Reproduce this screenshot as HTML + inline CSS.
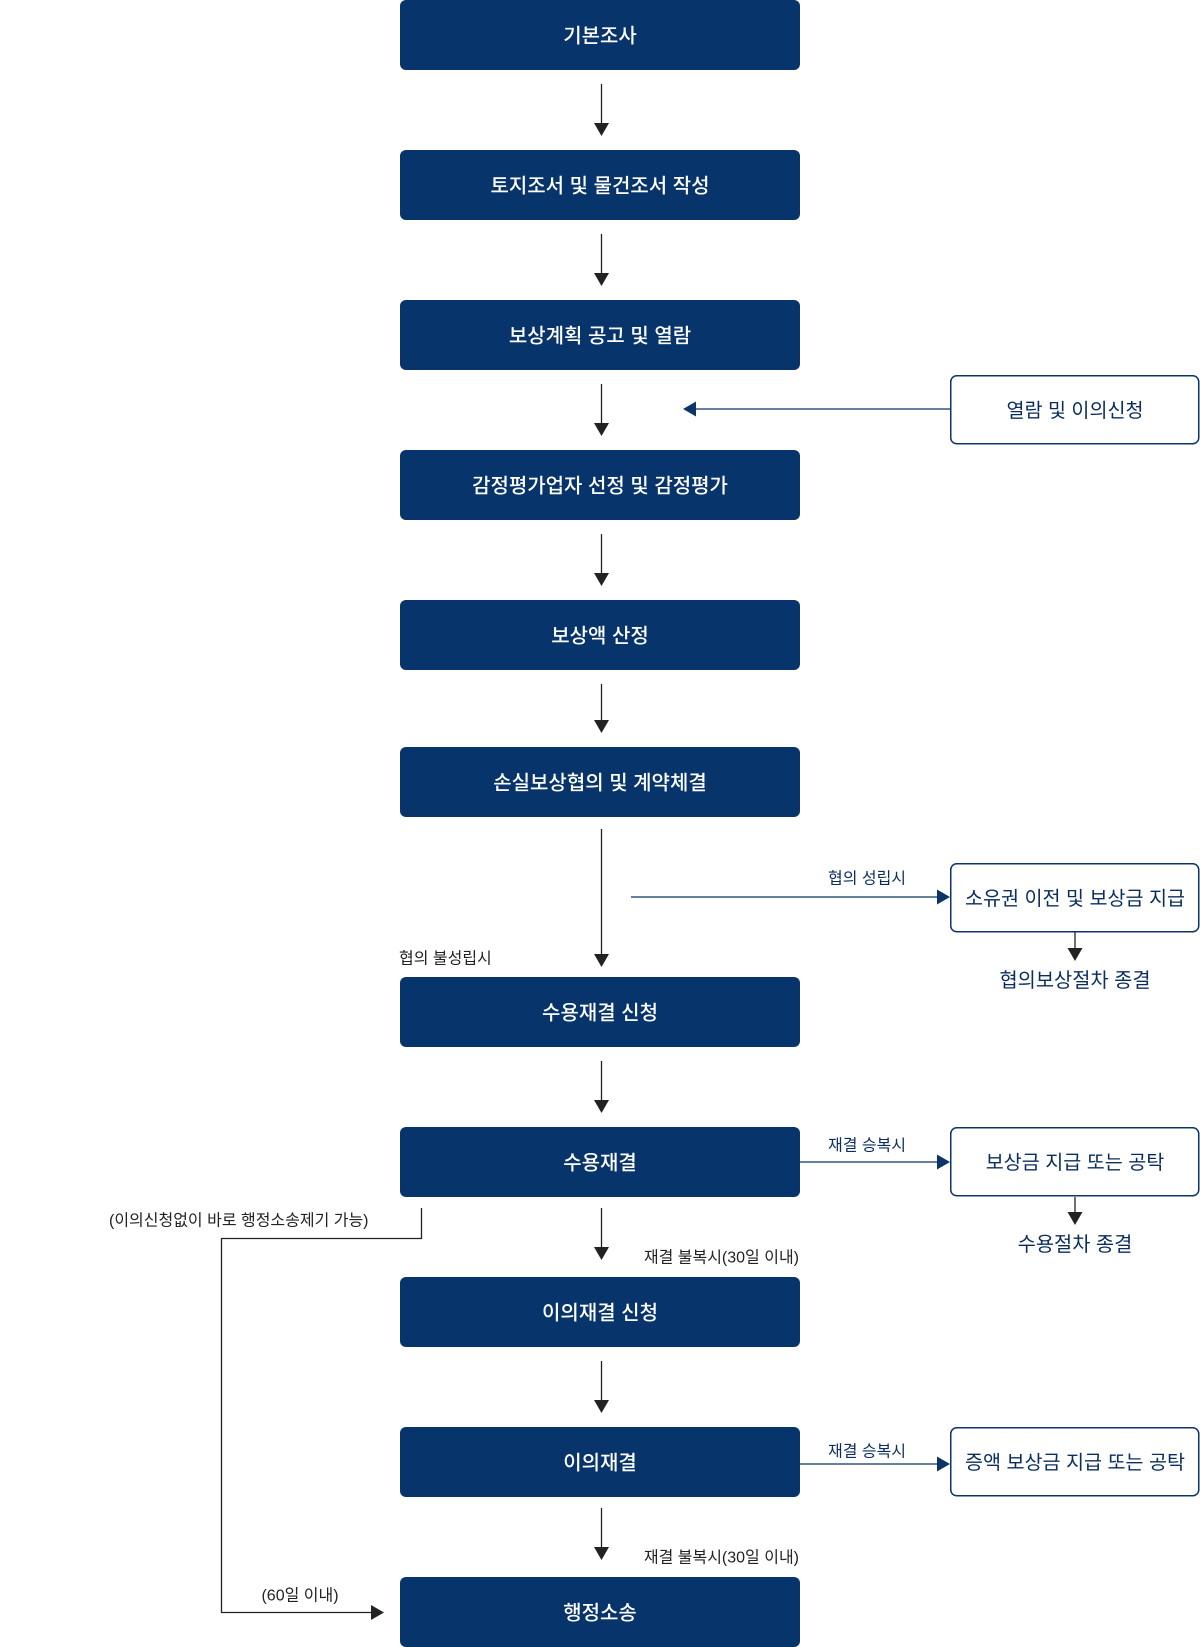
<!DOCTYPE html>
<html><head><meta charset="utf-8">
<style>
html,body{margin:0;padding:0;background:#fff;}
svg{display:block;}
text{font-family:"Liberation Sans","Noto Sans CJK KR",sans-serif;}
.bt{fill:#fff;font-size:20px;font-weight:500;text-anchor:middle;dominant-baseline:central;}
.rt{fill:#0b2d5e;font-size:19.6px;font-weight:400;text-anchor:middle;dominant-baseline:central;}
.lb{font-size:16px;dominant-baseline:central;}
</style></head>
<body>
<svg width="1200" height="1647" viewBox="0 0 1200 1647" xmlns="http://www.w3.org/2000/svg">
<!-- main boxes -->
<g fill="#07346a">
<rect x="400" y="0" width="400" height="70" rx="6"/>
<rect x="400" y="150" width="400" height="70" rx="6"/>
<rect x="400" y="300" width="400" height="70" rx="6"/>
<rect x="400" y="450" width="400" height="70" rx="6"/>
<rect x="400" y="600" width="400" height="70" rx="6"/>
<rect x="400" y="747" width="400" height="70" rx="6"/>
<rect x="400" y="977" width="400" height="70" rx="6"/>
<rect x="400" y="1127" width="400" height="70" rx="6"/>
<rect x="400" y="1277" width="400" height="70" rx="6"/>
<rect x="400" y="1427" width="400" height="70" rx="6"/>
<rect x="400" y="1577" width="400" height="70" rx="6"/>
</g>
<text class="bt" x="600" y="36.5">기본조사</text>
<text class="bt" x="600" y="186.5">토지조서 및 물건조서 작성</text>
<text class="bt" x="600" y="336.5">보상계획 공고 및 열람</text>
<text class="bt" x="600" y="486.5">감정평가업자 선정 및 감정평가</text>
<text class="bt" x="600" y="636.5">보상액 산정</text>
<text class="bt" x="600" y="783.5">손실보상협의 및 계약체결</text>
<text class="bt" x="600" y="1013.5">수용재결 신청</text>
<text class="bt" x="600" y="1163.5">수용재결</text>
<text class="bt" x="600" y="1313.5">이의재결 신청</text>
<text class="bt" x="600" y="1463.5">이의재결</text>
<text class="bt" x="600" y="1613.5">행정소송</text>

<!-- right boxes -->
<g fill="#fff" stroke="#0b3468" stroke-width="1.5">
<rect x="950.75" y="375.75" width="248" height="68" rx="6"/>
<rect x="950.75" y="863.75" width="248" height="68" rx="6"/>
<rect x="950.75" y="1127.75" width="248" height="68" rx="6"/>
<rect x="950.75" y="1427.75" width="248" height="68" rx="6"/>
</g>
<text class="rt" x="1075" y="411">열람 및 이의신청</text>
<text class="rt" x="1075" y="899">소유권 이전 및 보상금 지급</text>
<text class="rt" x="1075" y="1163">보상금 지급 또는 공탁</text>
<text class="rt" x="1075" y="1463">증액 보상금 지급 또는 공탁</text>

<!-- vertical main arrows -->
<g stroke="#222" stroke-width="1.3">
<line x1="601.5" y1="84" x2="601.5" y2="124"/>
<line x1="601.5" y1="234" x2="601.5" y2="274"/>
<line x1="601.5" y1="384" x2="601.5" y2="424"/>
<line x1="601.5" y1="534" x2="601.5" y2="574"/>
<line x1="601.5" y1="684" x2="601.5" y2="721"/>
<line x1="601.5" y1="829" x2="601.5" y2="955"/>
<line x1="601.5" y1="1061" x2="601.5" y2="1101"/>
<line x1="601.5" y1="1208" x2="601.5" y2="1248"/>
<line x1="601.5" y1="1361" x2="601.5" y2="1401"/>
<line x1="601.5" y1="1508" x2="601.5" y2="1548"/>
</g>
<g fill="#222">
<polygon points="594,123 609,123 601.5,136"/>
<polygon points="594,273 609,273 601.5,286"/>
<polygon points="594,423 609,423 601.5,436"/>
<polygon points="594,573 609,573 601.5,586"/>
<polygon points="594,720 609,720 601.5,733"/>
<polygon points="594,954 609,954 601.5,967"/>
<polygon points="594,1100 609,1100 601.5,1113"/>
<polygon points="594,1247 609,1247 601.5,1260"/>
<polygon points="594,1400 609,1400 601.5,1413"/>
<polygon points="594,1547 609,1547 601.5,1560"/>
</g>

<!-- horizontal navy arrows -->
<g stroke="#0b3468" stroke-width="1.3">
<line x1="695" y1="409" x2="950" y2="409"/>
<line x1="631" y1="897" x2="938" y2="897"/>
<line x1="800" y1="1162" x2="938" y2="1162"/>
<line x1="800" y1="1464" x2="938" y2="1464"/>
</g>
<g fill="#0b3468">
<polygon points="683,409 696,401.5 696,416.5"/>
<polygon points="950,897 937,889.5 937,904.5"/>
<polygon points="950,1162 937,1154.5 937,1169.5"/>
<polygon points="950,1464 937,1456.5 937,1471.5"/>
</g>

<!-- small down arrows from right boxes -->
<g stroke="#222" stroke-width="1.3">
<line x1="1075" y1="932" x2="1075" y2="950"/>
<line x1="1075" y1="1197" x2="1075" y2="1214"/>
</g>
<g fill="#222">
<polygon points="1067.5,948 1082.5,948 1075,961"/>
<polygon points="1067.5,1212 1082.5,1212 1075,1225"/>
</g>
<text x="1075" y="981" fill="#0b2d5e" font-size="19.8" text-anchor="middle" dominant-baseline="central">협의보상절차 종결</text>
<text x="1075" y="1245" fill="#0b2d5e" font-size="19.8" text-anchor="middle" dominant-baseline="central">수용절차 종결</text>

<!-- bracket connector -->
<polyline points="421.5,1208 421.5,1238.5 221.5,1238.5 221.5,1612.5 372,1612.5" fill="none" stroke="#222" stroke-width="1.3"/>
<polygon points="384,1612.5 371,1605 371,1620" fill="#222"/>

<!-- labels -->
<text class="lb" x="867" y="879" fill="#0b2d5e" text-anchor="middle">협의 성립시</text>
<text class="lb" x="399" y="959" fill="#222">협의 불성립시</text>
<text class="lb" x="867" y="1146" fill="#0b2d5e" text-anchor="middle">재결 승복시</text>
<text class="lb" x="867" y="1452" fill="#0b2d5e" text-anchor="middle">재결 승복시</text>
<text class="lb" x="799" y="1258" fill="#222" text-anchor="end" font-size="16.5">재결 불복시(30일 이내)</text>
<text class="lb" x="799" y="1558" fill="#222" text-anchor="end" font-size="16.5">재결 불복시(30일 이내)</text>
<text class="lb" x="109" y="1221" fill="#222">(이의신청없이 바로 행정소송제기 가능)</text>
<text class="lb" x="300" y="1596" fill="#222" text-anchor="middle">(60일 이내)</text>
</svg>
</body></html>
